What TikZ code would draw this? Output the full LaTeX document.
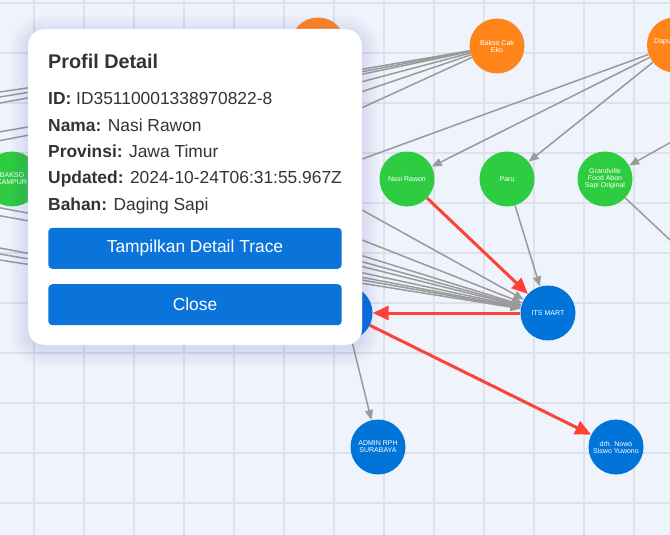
\documentclass[tikz,border=0pt]{standalone}
\usepackage{fontspec}
\setmainfont{Liberation Sans}
\usetikzlibrary{positioning}
\usetikzlibrary{arrows.meta,backgrounds}
\definecolor{canvas}{HTML}{EFF3FC}
\definecolor{gridc}{HTML}{DDE1EB}
\definecolor{orangen}{HTML}{FF851B}
\definecolor{greenn}{HTML}{2ECC40}
\definecolor{bluen}{HTML}{0074D9}
\definecolor{redl}{HTML}{FF4136}
\definecolor{grayl}{HTML}{9A9A9A}
\definecolor{btn}{HTML}{0A74DA}
\definecolor{cardline}{HTML}{E3D7F3}
\definecolor{ink}{HTML}{333333}
\definecolor{glow}{HTML}{7565D8}
\newcommand\nodefont{\fontsize{7}{7}\selectfont}
\newcommand\cardfont{\fontsize{17.4}{26}\selectfont}
\newcommand\titlefont{\fontsize{19.8}{24}\selectfont\bfseries}
\tikzset{
  entity/.style={circle, minimum size=55pt, inner sep=0pt, text=white, align=center, font=\nodefont},
  producer/.style={entity, fill=orangen},
  product/.style={entity, fill=greenn},
  actor/.style={entity, fill=bluen},
  link/.style={draw=grayl, line width=1.5pt, -{Triangle[length=10pt,width=8pt]}},
  trace/.style={draw=redl, line width=3pt, -{Triangle[length=16pt,width=14pt]}},
  gridline/.style={draw=gridc, line width=2pt},
  field/.style={anchor=base west, inner sep=0pt, text=ink, font=\cardfont},
  button/.style={fill=btn, rounded corners=4pt, minimum width=293.4pt, minimum height=41pt, inner sep=0pt, text=white, font=\cardfont},
}

\begin{document}
\begin{tikzpicture}[x=1pt,y=-1pt]
    \useasboundingbox (0,0) rectangle (670,535);

    % nodes of the graph
    \node [producer] (top) at (318,45) {};
    \node [producer] (bakso) at (497,46) {Bakso Cak\\Eko};
    \node [producer] (dapur) at (674.5,45) {};
    \node [anchor=west, inner sep=0pt, text=white, font=\nodefont] (dapurlabel) at (654,41.7) {Dapur};
    \node [product] (kampur) at (12,179) {BAKSO\\KAMPUR};
    \node [product] (rawon) at (407,179) {Nasi Rawon};
    \node [product] (paru) at (507,179) {Paru};
    \node [product] (abon) at (605,179) {Grandville\\Food Abon\\Sapi Original};
    \node [actor] (itsmart) at (548,313) {ITS MART};
    \node [actor] (mid) at (345,313) {};
    \node [actor] (admin) at (378,447) {ADMIN RPH\\SURABAYA};
    \node [actor] (nowo) at (616,447) {drh. Nowo\\Siswo Yuwono};

    % ends of edges outside the view or under the card
    \coordinate (lt1) at (-40,97.9);
    \coordinate (lt2) at (-40,103.5);
    \coordinate (lt3) at (-40,110.3);
    \coordinate (lb1) at (-40,138.7);
    \coordinate (lb2) at (-40,148.2);
    \coordinate (lm1) at (-40,200.1);
    \coordinate (lm2) at (-40,208.7);
    \coordinate (lh1) at (-40,240.5);
    \coordinate (lh2) at (-40,247.2);
    \coordinate (lh3) at (-40,253.9);
    \coordinate (pb1) at (150,118.7);
    \coordinate (pb2) at (150,137.8);
    \coordinate (pb3) at (150,163.5);
    \coordinate (pb4) at (150,204.6);
    \coordinate (pm1) at (200,120.3);
    \coordinate (pm2) at (200,176.4);
    \coordinate (pm3) at (200,205.8);
    \coordinate (pm4) at (200,217);
    \coordinate (pm5) at (200,237.6);
    \coordinate (pm6) at (200,257.4);
    \coordinate (pd) at (250,200);
    \coordinate (rg1) at (700,126);
    \coordinate (rg2) at (700,268);

    \begin{scope}[on background layer]
        \fill [canvas] (0,0) rectangle (670,535);
        \foreach \x in {34,84,...,634}
            \draw [gridline] (\x,0) -- (\x,535);
        \foreach \y in {2.7,52.7,...,502.7}
            \draw [gridline] (0,\y) -- (670,\y);

        \foreach \c in {lt1,lt2,lt3}
            \draw [link] (top) -- (\c);
        \foreach \c in {lb1,lb2,pb1,pb2,pb3,pb4}
            \draw [link] (bakso) -- (\c);
        \foreach \c in {lm1,lm2,pm1,pm2,pm3,pm4,pm5,pm6}
            \draw [link] (\c) -- (itsmart);
        \foreach \c in {lh1,lh2,lh3}
            \draw [link] (\c) -- (mid);
        \draw [link] (kampur) -- (itsmart);
        \draw [link] (dapur) -- (rawon);
        \draw [link] (dapur) -- (paru);
        \draw [link] (dapur) -- (pd);
        \draw [link] (rg1) -- (abon);
        \draw [link] (abon) -- (rg2);
        \draw [link] (paru) -- (itsmart);
        \draw [link] (mid) -- (admin);

        \draw [trace] (rawon) -- (itsmart);
        \draw [trace] (itsmart) -- (mid);
        \draw [trace] (mid) -- (nowo);
    \end{scope}

    % detail card
    \foreach \s in {1,...,12}
        \fill [glow, opacity=0.011, rounded corners={16+1.5*\s}] (28-1.5*\s,33-1.5*\s) rectangle (362+1.5*\s,349+1.5*\s);
    \draw [cardline, fill=white, rounded corners=16pt] (28,29) rectangle (362,345);
    \node [field, font=\titlefont] (title) at (48,68.5) {Profil Detail};
    \node [field] (id) at (48,105) {\textbf{ID:} ID35110001338970822-8};
    \node [field] (nama) at (48,131.3) {\textbf{Nama:} Nasi Rawon};
    \node [field] (prov) at (48,157.6) {\textbf{Provinsi:} Jawa Timur};
    \node [field] (upd) at (48,183.9) {\textbf{Updated:} 2024-10-24T06:31:55.967Z};
    \node [field] (bahan) at (48,210.2) {\textbf{Bahan:} Daging Sapi};
    \node [button] (trace) at (195,248.3) {Tampilkan Detail Trace};
    \node [button] (close) at (195,304.7) {Close};
\end{tikzpicture}
\end{document}
